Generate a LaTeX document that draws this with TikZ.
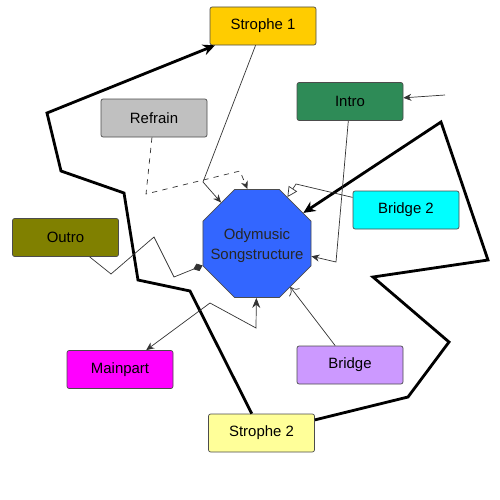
\documentclass[tikz,border=0pt]{standalone}
\usepackage{fontspec}
\setmainfont{Liberation Sans}
\usepackage{tikz}
\usetikzlibrary{arrows.meta,shapes.geometric}

\definecolor{stropheA}{RGB}{255,204,0}
\definecolor{stropheB}{RGB}{255,255,153}
\definecolor{introcol}{RGB}{46,139,87}
\definecolor{refraincol}{RGB}{192,192,192}
\definecolor{bridgeA}{RGB}{204,153,255}
\definecolor{bridgeB}{RGB}{0,255,255}
\definecolor{outrocol}{RGB}{128,128,0}
\definecolor{maincol}{RGB}{255,0,255}
\definecolor{songcol}{RGB}{51,102,255}

\begin{document}
\begin{tikzpicture}[
  x=0.2mm, y=-0.2mm,
  font=\fontsize{8.5}{10}\selectfont,
  >={Stealth[length=1.6mm,width=1.4mm]},
  part/.style={draw=black!70, line width=0.4pt, rounded corners=1.2pt,
    minimum width=21.2mm, minimum height=7.6mm, inner sep=0pt},
  song/.style={draw=black!70, line width=0.4pt, fill=songcol, regular polygon,
    regular polygon sides=8, minimum size=23.4mm, inner sep=0pt},
  link/.style={line width=0.4pt, black!80},
  order/.style={line width=1.6pt, -{Stealth[length=2.4mm,width=2.2mm]}},
]
\useasboundingbox (0,0) rectangle (500,500);

\node[song, label={[align=center, text=black!85, font=\fontsize{8.5}{11}\selectfont,
  yshift=-0.4mm]center:Odymusic\\Songstructure}] (song) at (257,243.5) {};

\node[part, fill=stropheA] (s1) at (263,26) {Strophe 1};
\node[part, fill=introcol] (intro) at (350,101.5) {Intro};
\node[part, fill=refraincol] (refrain) at (154,118) {Refrain};
\node[part, fill=bridgeB] (b2) at (406,210) {Bridge 2};
\node[part, fill=outrocol] (outro) at (65.5,237.5) {Outro};
\node[part, fill=maincol] (main) at (120,369.5) {Mainpart};
\node[part, fill=bridgeA] (bridge) at (350,365) {Bridge};
\node[part, fill=stropheB] (s2) at (261.5,433) {Strophe 2};

\coordinate (start) at (445,95);

\draw[order] (s2) -- (190,291) -- (138,280) -- (124,193) -- (61,171)
  -- (47,113) -- (s1);
\draw[order] (s2) -- (408,397) -- (449,342) -- (373,277) -- (488,260)
  -- (441,122) -- (song);

\draw[link, ->] (start) -- (intro);
\draw[link, ->] (s1) -- (203,182) -- (song);
\draw[link, ->] (intro) -- (336,262) -- (song);
\draw[link, dashed, ->] (refrain) -- (146,194) -- (240,171) -- (song.100);
\draw[link, -{Triangle[open,length=2mm,width=2mm]}] (b2) -- (296,184) -- (song);
\draw[link, -{Diamond[length=2mm,width=1.6mm]}] (outro) -- (111,274)
  -- (154,237) -- (174,277) -- (song);
\draw[link, {Stealth[length=1.6mm,width=1.4mm]}-{Stealth[length=2mm,width=1.6mm]}]
  (main) -- (210,303) -- (256,328) -- (song);
\draw[link, -{To[length=1.4mm,width=2.6mm]}] (bridge) -- (song);
\end{tikzpicture}
\end{document}
